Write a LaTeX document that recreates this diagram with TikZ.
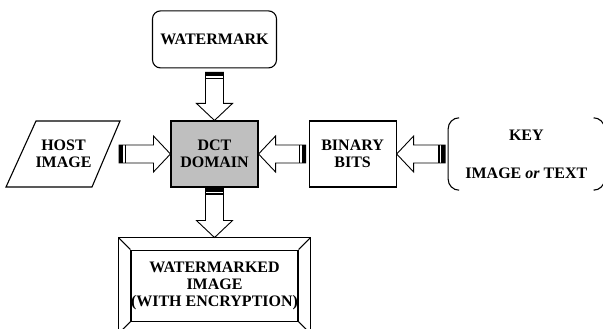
\documentclass[tikz,border=0pt]{standalone}
\usepackage{fontspec}
\setmainfont{Liberation Serif}
\usetikzlibrary{positioning,calc}

% block arrow with two stripes at its tail, from #1 (tail) to #2 (tip)
\newcommand{\stripedarrow}[2]{%
  \coordinate (sa-t) at (#1);
  \coordinate (sa-h) at (#2);
  \coordinate (sa-b) at ($(sa-h)!17pt!(sa-t)$);
  \coordinate (sa-s1) at ($(sa-t)!2pt!(sa-h)$);
  \coordinate (sa-s2) at ($(sa-t)!6.25pt!(sa-h)$);
  \draw[arrowline]
    ($(sa-t)!9pt!90:(sa-h)$) -- ($(sa-b)!9pt!-90:(sa-t)$)
    -- ($(sa-b)!18pt!-90:(sa-t)$) -- (sa-h)
    -- ($(sa-b)!18pt!90:(sa-t)$) -- ($(sa-b)!9pt!90:(sa-t)$)
    -- ($(sa-t)!9pt!-90:(sa-h)$) -- cycle;
  \draw[line width=4pt] ($(sa-s1)!9pt!90:(sa-h)$) -- ($(sa-s1)!9pt!-90:(sa-h)$);
  \draw[line width=1.5pt] ($(sa-s2)!9pt!90:(sa-h)$) -- ($(sa-s2)!9pt!-90:(sa-h)$);
}

\begin{document}
\begin{tikzpicture}[
        x=1pt, y=1pt,
        font=\fontsize{16}{17.5}\selectfont\bfseries,
        box/.style={draw, line width=1.1pt, align=center, inner sep=0pt},
        arrowline/.style={draw, line width=0.9pt, fill=white, line join=miter},
        frameline/.style={line width=1.1pt}
      ]
      \useasboundingbox (0,0) rectangle (603,329);

      \node (dct) [box, fill=black!25, minimum width=87pt, minimum height=66pt] at (214.5,175) {DCT\\DOMAIN};
      \node (wm) [box, rounded corners=8pt, minimum width=124pt, minimum height=57pt, above=52pt of dct] {WATERMARK};
      \node (bin) [box, minimum width=87pt, minimum height=66pt, right=50pt of dct] {BINARY\\BITS};
      \node (key) [align=center, inner sep=0pt, minimum width=156pt, minimum height=72pt, right=51.5pt of bin] {KEY\\[20.5pt]IMAGE \textit{or} TEXT};
      \node (host) [align=center] at (63.5,175) {HOST\\IMAGE};
      \node (out) [box, minimum width=156pt, minimum height=71pt, below=62pt of dct] {WATERMARKED\\IMAGE\\[-1pt](WITH ENCRYPTION)};

      % host image parallelogram
      \draw[frameline] ([shift={(-27.5,33)}]host.center) -- ([shift={(56.5,33)}]host.center)
        -- ([shift={(28.5,-33)}]host.center) -- ([shift={(-57.5,-33)}]host.center) -- cycle;

      % key brackets
      \draw[frameline] ([xshift=11pt]key.north west) to[out=180,in=90] ([yshift=-11pt]key.north west)
        -- ([yshift=11pt]key.south west) to[out=-90,in=180] ([xshift=11pt]key.south west);
      \draw[frameline] ([xshift=-11pt]key.north east) to[out=0,in=90] ([yshift=-11pt]key.north east)
        -- ([yshift=11pt]key.south east) to[out=-90,in=0] ([xshift=-11pt]key.south east);

      % bevelled frame of the output
      \draw[frameline] ([shift={(-12,-12)}]out.south west) rectangle ([shift={(12,12)}]out.north east);
      \draw[frameline] (out.north west) -- ++(-12,12);
      \draw[frameline] (out.north east) -- ++(12,12);
      \draw[frameline] (out.south west) -- ++(-12,-12);
      \draw[frameline] (out.south east) -- ++(12,-12);

      \stripedarrow{[yshift=-4pt]wm.south}{dct.north}
      \stripedarrow{[xshift=55.5pt]host.center}{dct.west}
      \stripedarrow{[xshift=-3pt]bin.west}{dct.east}
      \stripedarrow{[xshift=-3pt]key.west}{bin.east}
      \stripedarrow{dct.south}{[yshift=12pt]out.north}

    \end{tikzpicture}
\end{document}
